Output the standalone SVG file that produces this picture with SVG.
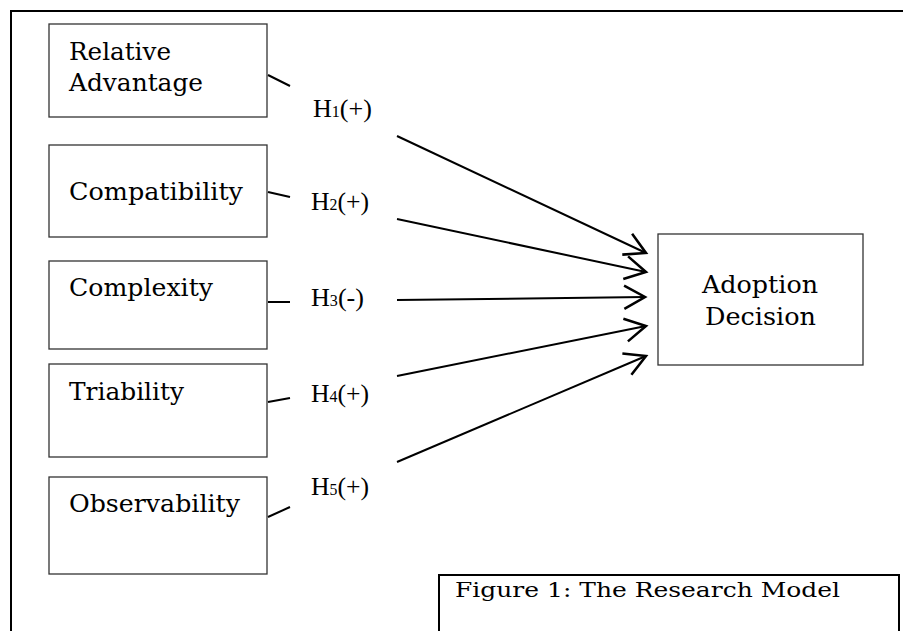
<svg xmlns="http://www.w3.org/2000/svg" width="903" height="631" viewBox="0 0 903 631">
<defs>
<style>
.frame{fill:none;stroke:#000;stroke-width:2}
.box{fill:#fff;stroke:#333;stroke-width:1.3}
.lbl{font-family:"DejaVu Serif","Liberation Serif",serif;font-size:25px;fill:#000}
.h{font-family:"Liberation Serif","Times New Roman",serif;font-size:26px;fill:#000}
.sub{font-size:16px}
.cap{font-family:"DejaVu Serif","Liberation Serif",serif;font-size:20px;fill:#000}
.ln{fill:none;stroke:#000;stroke-width:2}
</style>
<marker id="arr" markerUnits="userSpaceOnUse" markerWidth="30" markerHeight="30" refX="0" refY="0" viewBox="-22 -12 26 24" orient="auto" overflow="visible">
<path d="M-18,-10 L0,0 L-18,10" fill="none" stroke="#000" stroke-width="2.2"/>
</marker>
</defs>
<rect class="frame" x="11" y="11" width="905" height="640"/>
<g id="relative-advantage">
<rect class="box" x="49" y="24" width="218" height="93"/>
<text class="lbl" x="69" y="60" textLength="102" lengthAdjust="spacingAndGlyphs">Relative</text>
<text class="lbl" x="69" y="91" textLength="134" lengthAdjust="spacingAndGlyphs">Advantage</text>
</g>
<g id="compatibility">
<rect class="box" x="49" y="145" width="218" height="92"/>
<text class="lbl" x="69" y="200" textLength="174" lengthAdjust="spacingAndGlyphs">Compatibility</text>
</g>
<g id="complexity">
<rect class="box" x="49" y="261" width="218" height="88"/>
<text class="lbl" x="69" y="296" textLength="144" lengthAdjust="spacingAndGlyphs">Complexity</text>
</g>
<g id="triability">
<rect class="box" x="49" y="364" width="218" height="93"/>
<text class="lbl" x="69" y="400" textLength="115" lengthAdjust="spacingAndGlyphs">Triability</text>
</g>
<g id="observability">
<rect class="box" x="49" y="477" width="218" height="97"/>
<text class="lbl" x="69" y="512" textLength="171" lengthAdjust="spacingAndGlyphs">Observability</text>
</g>
<g id="adoption-decision">
<rect class="box" x="658" y="234" width="205" height="131"/>
<text class="lbl" x="702" y="293" textLength="116" lengthAdjust="spacingAndGlyphs">Adoption</text>
<text class="lbl" x="705" y="325" textLength="111" lengthAdjust="spacingAndGlyphs">Decision</text>
</g>
<g id="caption">
<rect class="frame" x="439" y="575" width="460" height="70"/>
<text class="cap" x="455" y="597" textLength="385" lengthAdjust="spacingAndGlyphs">Figure 1: The Research Model</text>
</g>
<g id="connectors">
<path class="ln" d="M268,75 L290,86"/>
<path class="ln" d="M268,192 L290,197"/>
<path class="ln" d="M268,302 L290,302"/>
<path class="ln" d="M268,402 L290,398"/>
<path class="ln" d="M268,517 L290,507"/>
<path class="ln" d="M397,136 L646,253" marker-end="url(#arr)"/>
<path class="ln" d="M397,219 L646,272" marker-end="url(#arr)"/>
<path class="ln" d="M397,300 L645,297" marker-end="url(#arr)"/>
<path class="ln" d="M397,376 L646,326" marker-end="url(#arr)"/>
<path class="ln" d="M397,462 L646,356" marker-end="url(#arr)"/>
</g>
<g id="labels">
<text class="h" x="313" y="117" textLength="59" lengthAdjust="spacingAndGlyphs">H<tspan class="sub">1</tspan>(+)</text>
<text class="h" x="311" y="210" textLength="58" lengthAdjust="spacingAndGlyphs">H<tspan class="sub">2</tspan>(+)</text>
<text class="h" x="311" y="306" textLength="53" lengthAdjust="spacingAndGlyphs">H<tspan class="sub">3</tspan>(-)</text>
<text class="h" x="311" y="402" textLength="58" lengthAdjust="spacingAndGlyphs">H<tspan class="sub">4</tspan>(+)</text>
<text class="h" x="311" y="495" textLength="58" lengthAdjust="spacingAndGlyphs">H<tspan class="sub">5</tspan>(+)</text>
</g>
</svg>
